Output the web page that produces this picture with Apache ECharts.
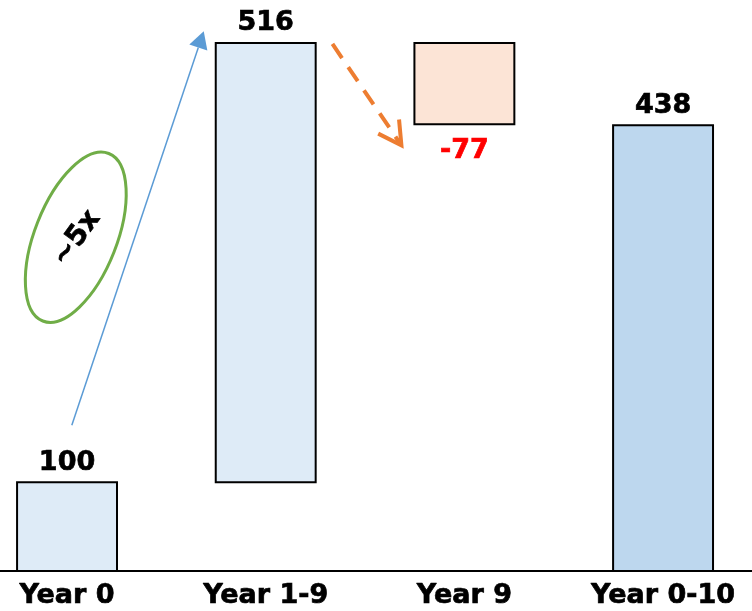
<!DOCTYPE html>
<html><head><meta charset="utf-8">
<script src="https://cdn.jsdelivr.net/npm/echarts@6/dist/echarts.min.js"></script>
<style>html,body{margin:0;padding:0;background:#fff}#c{width:752px;height:611px}</style>
</head><body><div id="c"></div>
<script>
// ---- data ----
const categories = ['Year 0', 'Year 1-9', 'Year 9', 'Year 0-10'];
const barLow = [0, 100, 439, 0];
const barHigh = [100, 516, 516, 438];
const labelValues = [100, 516, -77, 438];
const ratioText = '~5x';

// ---- styles ----
const fills = ['#DEEBF7', '#DEEBF7', '#FCE4D6', '#BDD7EE'];
const labelColors = ['#000', '#000', '#FF0000', '#000'];
const labelPos = ['top', 'top', 'bottom', 'top'];
const labelDist = [5, 5, 12, 5];
const FONT = '"DejaVu Sans", Verdana, sans-serif';
const HEAVY = 0.7;

const rows = categories.map((c, i) => [i, barLow[i], barHigh[i]]);

const chart = echarts.init(document.getElementById('c'), null, {renderer: 'canvas'});
chart.setOption({
  animation: false,
  backgroundColor: '#fff',
  grid: {left: -32.3, right: -10.4, top: 7, bottom: 40, containLabel: false, outerBoundsMode: 'none'},
  xAxis: {
    type: 'category', data: categories, boundaryGap: true,
    axisLine: {lineStyle: {color: '#000', width: 2}},
    axisTick: {show: false},
    axisLabel: {color: '#000', fontSize: 27, fontWeight: 'bold', fontFamily: FONT, margin: 11, interval: 0,
                textBorderColor: '#000', textBorderWidth: HEAVY}
  },
  yAxis: {type: 'value', min: 16, max: 550, show: false, splitLine: {show: false}},
  series: [{
    type: 'custom',
    data: rows,
    encode: {x: 0, y: [1, 2]},
    renderItem: function (params, api) {
      const i = params.dataIndex;
      const x = api.value(0);
      const pHi = api.coord([x, api.value(2)]);
      const pLo = api.coord([x, api.value(1)]);
      const cs = params.coordSys;
      const bottom = Math.min(pLo[1], cs.y + cs.height);
      const w = api.size([1, 0])[0] * 0.503;
      return {
        type: 'rect',
        shape: {x: pHi[0] - w / 2, y: pHi[1], width: w, height: bottom - pHi[1]},
        style: {fill: fills[i], stroke: '#000', lineWidth: 2},
        textContent: {
          style: {text: String(labelValues[i]), fill: labelColors[i], fontSize: 27, fontWeight: 'bold', fontFamily: FONT,
                  stroke: labelColors[i], lineWidth: HEAVY}
        },
        textConfig: {position: labelPos[i], distance: labelDist[i]}
      };
    }
  }]
});

// ---- annotations anchored in data space (fractional category index, value) ----
const blueStart = [0.024, 154], blueEnd = [0.688, 527];
const orangeStart = [1.336, 515], orangeEnd = [1.683, 419];
const ovalCenter = [0.044, 332];

function px(p) {
  const i0 = Math.floor(p[0]), f = p[0] - i0;
  const a = chart.convertToPixel({xAxisIndex: 0, yAxisIndex: 0}, [i0, p[1]]);
  const b = chart.convertToPixel({xAxisIndex: 0, yAxisIndex: 0}, [i0 + 1, p[1]]);
  return [a[0] + (b[0] - a[0]) * f, a[1]];
}

const bs = px(blueStart), be = px(blueEnd);
const os = px(orangeStart), oe = px(orangeEnd);
const oc = px(ovalCenter);

function unit(a, b) { const dx = b[0] - a[0], dy = b[1] - a[1]; const l = Math.hypot(dx, dy); return [dx / l, dy / l]; }
const ub = unit(bs, be);
const headLen = 17, headHalf = 9.5;
const baseMid = [be[0] - ub[0] * headLen, be[1] - ub[1] * headLen];
const nb = [-ub[1], ub[0]];

const uo = unit(os, oe);
function rot(v, a) { const c = Math.cos(a), s = Math.sin(a); return [v[0] * c - v[1] * s, v[0] * s + v[1] * c]; }
const back = [-uo[0], -uo[1]];
const armLen = 26, armAng = 29 * Math.PI / 180;
const a1 = rot(back, armAng), a2 = rot(back, -armAng);

chart.setOption({
  graphic: [
    {type: 'line', shape: {x1: bs[0], y1: bs[1], x2: baseMid[0], y2: baseMid[1]},
     style: {stroke: '#5B9BD5', lineWidth: 1.5}},
    {type: 'polygon', shape: {points: [be, [baseMid[0] + nb[0] * headHalf, baseMid[1] + nb[1] * headHalf], [baseMid[0] - nb[0] * headHalf, baseMid[1] - nb[1] * headHalf]]},
     style: {fill: '#5B9BD5'}},
    {type: 'line', shape: {x1: os[0], y1: os[1], x2: oe[0] - uo[0] * 3, y2: oe[1] - uo[1] * 3},
     style: {stroke: '#ED7D31', lineWidth: 4, lineDash: [17, 11], lineCap: 'butt'}},
    {type: 'polyline', shape: {points: [[oe[0] + a1[0] * armLen, oe[1] + a1[1] * armLen], oe, [oe[0] + a2[0] * armLen, oe[1] + a2[1] * armLen]]},
     style: {stroke: '#ED7D31', lineWidth: 4, fill: null, lineJoin: 'miter'}},
    {type: 'ellipse', x: oc[0], y: oc[1], rotation: -21.5 * Math.PI / 180,
     shape: {cx: 0, cy: 0, rx: 41, ry: 90},
     style: {fill: null, stroke: '#70AD47', lineWidth: 3}},
    {type: 'text', x: oc[0] + 1, y: oc[1] + 1, rotation: 54 * Math.PI / 180,
     style: {text: ratioText, fill: '#000', fontSize: 28, fontWeight: 'bold', fontFamily: FONT, align: 'center', verticalAlign: 'middle',
             stroke: '#000', lineWidth: HEAVY}}
  ]
});
</script>
</body></html>
